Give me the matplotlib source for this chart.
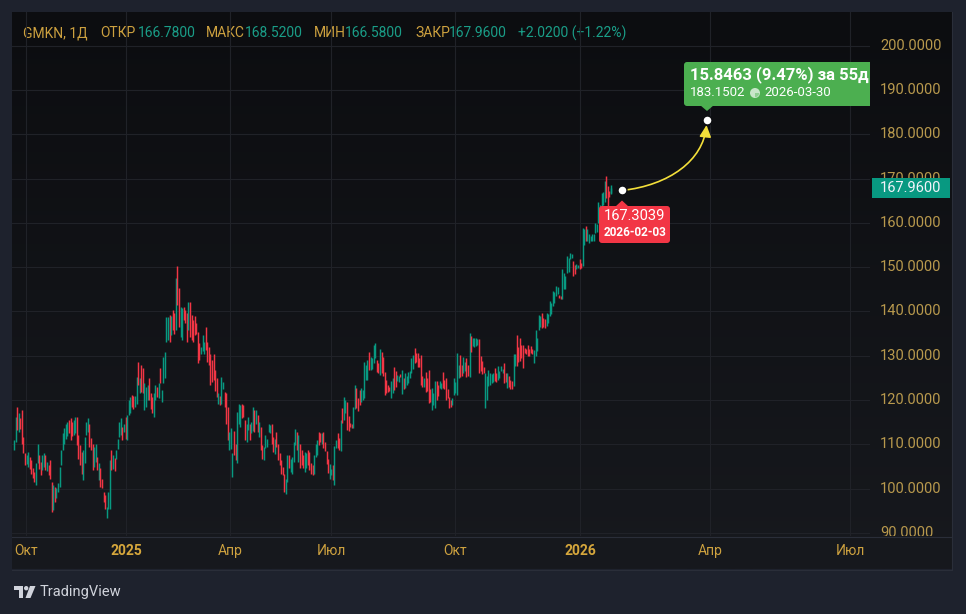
import numpy as np
import matplotlib
matplotlib.use("Agg")
import matplotlib.pyplot as plt
from matplotlib.colors import LinearSegmentedColormap
from matplotlib.patches import FancyBboxPatch, Polygon, Circle, Wedge, Rectangle, FancyArrowPatch
from matplotlib.path import Path
from matplotlib.transforms import Affine2D, blended_transform_factory

plt.rcParams['font.family'] = ['Roboto', 'DejaVu Sans']

# --- данные (дневные свечи GMKN) ---
ticker = "GMKN, 1Д"

opens = [
    # сен 2024 - янв 2025
    108.7, 110.6, 118.5, 112.9, 116.0, 117.7, 111.7, 108.0, 105.6, 105.0,
    107.2, 106.5, 104.6, 103.8, 100.8, 105.7, 107.6, 106.0, 104.2, 105.0,
    107.6, 104.0, 105.3, 106.5, 101.6, 95.2, 100.4, 97.8, 99.3, 100.4,
    105.3, 108.7, 110.2, 111.3, 112.0, 115.5, 115.9, 115.0, 112.1, 112.5,
    116.2, 112.1, 109.8, 108.3, 102.0, 105.7, 112.1, 112.9, 114.7, 111.5,
    110.2, 105.0, 106.1, 107.2, 102.0, 104.6, 102.3, 99.3, 98.5, 93.3,
    95.5, 95.5, 108.7, 104.5, 107.0, 106.8, 109.0, 111.7, 112.1, 114.0,
    112.9, 116.2, 111.0, 116.6, 117.0, 121.1, 121.0, 118.5, 119.2, 128.7,
    121.5, 127.9, 127.2, 117.7, 118.5, 120.0, 124.9, 121.5, 120.8, 116.2,
    120.0, 123.0, 120.4, 127.2, 119.6, 123.8, 125.0,
    # фев - июл 2025
    133.0, 133.5, 139.2, 134.7, 140.3, 139.6, 135.8, 150.2, 145.2, 134.3,
    133.5, 141.1, 140.3, 139.6, 135.8, 142.2, 139.2, 138.0, 139.0, 137.5,
    135.4, 132.8, 130.5, 131.0, 130.5, 136.6, 133.2, 132.0, 130.5, 129.0,
    130.5, 126.8, 125.0, 119.2, 121.0, 119.2, 122.5, 121.9, 121.5, 118.5,
    108.7, 109.0, 102.7, 113.0, 110.0, 105.7, 114.7, 114.0, 119.2, 118.8,
    115.5, 110.6, 113.2, 114.7, 112.5, 113.0, 117.7, 114.7, 116.6, 111.7,
    114.0, 109.8, 106.5, 109.1, 109.5, 112.9, 112.5, 114.7, 111.7, 107.9,
    112.9, 110.2, 108.0, 106.5, 105.0, 103.4, 98.9, 101.6, 107.6, 103.8,
    103.4, 106.1, 109.8, 112.9, 106.1, 110.0, 108.7, 107.6, 103.8, 104.6,
    108.7, 108.3, 105.7, 105.3, 103.4, 107.2, 107.6,
    # июл - ноя 2025
    112.9, 112.5, 110.2, 112.9, 110.5, 108.4, 106.8, 102.3, 103.0, 105.3,
    100.8, 109.1, 112.5, 111.4, 108.4, 118.1, 115.5, 117.0, 119.6, 116.5,
    114.8, 114.5, 113.6, 118.0, 122.7, 120.5, 122.3, 119.6, 120.0, 120.4,
    124.5, 124.5, 130.9, 126.8, 127.0, 128.3, 129.5, 129.1, 128.3, 125.7,
    130.9, 129.8, 126.4, 124.5, 123.4, 123.0, 120.4, 121.5, 127.5, 126.5,
    124.2, 124.0, 125.9, 121.4, 125.0, 122.7, 123.5, 123.8, 125.0, 126.1,
    127.0, 131.7, 130.6, 130.6, 129.5, 130.2, 125.5, 123.0, 126.4, 125.0,
    126.8, 122.5, 117.8, 119.0, 118.1, 124.2, 123.5, 122.7, 122.5, 126.4,
    124.5, 124.9, 122.5, 120.8, 120.0, 118.9, 121.1, 121.5, 121.1, 125.0,
    130.2, 128.0, 126.1, 126.5, 129.4, 128.0, 125.3, 134.5, 132.1, 132.0,
    # ноя 2025 - фев 2026
    132.2, 132.5, 133.7, 130.0, 128.8, 127.5, 118.2, 120.0, 123.1, 123.5,
    123.9, 124.0, 127.3, 126.0, 124.6, 125.0, 126.5, 126.0, 128.4, 126.0,
    122.7, 125.5, 124.6, 124.2, 123.1, 127.6, 134.8, 132.0, 134.0, 132.5,
    132.5, 131.8, 131.5, 132.5, 131.5, 132.2, 131.5, 128.4, 129.9, 131.0,
    135.9, 136.5, 139.7, 138.5, 138.2, 136.7, 137.5, 138.9, 139.5, 141.2,
    142.0, 143.5, 144.0, 143.8, 143.6, 142.7, 145.0, 145.0, 148.7, 149.0,
    151.8, 152.0, 151.4, 150.5, 149.5, 149.8, 151.8, 151.0, 150.2, 155.0,
    159.3, 156.0, 155.5, 155.8, 155.9, 156.0, 157.8, 158.0, 160.0, 161.5,
    163.1, 164.0, 164.6, 170.5, 168.3, 167.2, 166.78,
]

closes = [
    111.0, 116.2, 113.2, 117.0, 113.5, 110.2, 108.0, 105.3, 107.6, 108.3,
    104.5, 103.4, 102.5, 101.6, 105.7, 110.2, 104.5, 103.1, 107.6, 108.0,
    104.2, 106.0, 103.1, 102.3, 94.8, 100.8, 97.0, 100.1, 101.2, 105.0,
    108.7, 112.5, 113.6, 114.7, 115.1, 112.5, 111.0, 112.0, 115.6, 116.2,
    109.8, 106.8, 105.3, 103.4, 108.7, 111.7, 115.1, 116.0, 109.5, 108.8,
    104.2, 109.5, 110.2, 104.2, 105.7, 100.4, 100.1, 97.0, 95.5, 95.9,
    99.3, 106.5, 104.2, 107.5, 104.0, 108.7, 111.3, 115.1, 115.9, 111.0,
    114.7, 111.3, 116.6, 120.0, 120.8, 118.5, 118.0, 121.0, 125.3, 123.4,
    124.9, 121.8, 121.5, 123.8, 123.0, 123.4, 120.0, 118.0, 117.0, 121.5,
    123.4, 120.8, 123.8, 123.8, 122.3, 129.8, 130.9,
    138.8, 138.8, 133.2, 139.0, 135.8, 135.0, 147.5, 141.4, 136.6, 141.1,
    140.7, 138.0, 137.3, 133.2, 142.2, 134.3, 133.5, 133.0, 134.7, 135.0,
    128.3, 129.0, 132.0, 134.7, 133.2, 131.3, 128.7, 128.0, 123.5, 124.0,
    124.5, 122.0, 120.8, 121.5, 119.0, 125.3, 124.0, 118.5, 114.7, 110.9,
    112.9, 113.6, 108.0, 107.6, 106.5, 117.3, 119.2, 119.0, 116.0, 116.2,
    110.9, 114.7, 116.2, 111.0, 115.1, 118.5, 112.9, 117.7, 112.9, 115.1,
    108.7, 106.8, 109.5, 112.1, 111.3, 114.7, 114.3, 110.2, 108.3, 111.3,
    109.5, 106.5, 105.3, 103.4, 103.1, 99.3, 102.3, 107.6, 104.6, 106.8,
    107.2, 110.6, 113.4, 108.7, 112.1, 104.6, 105.3, 104.6, 108.3, 108.0,
    105.3, 104.2, 103.4, 103.1, 107.6, 110.2, 110.9,
    109.9, 110.5, 112.5, 109.1, 108.4, 105.6, 103.5, 105.6, 104.5, 102.0,
    109.6, 111.0, 109.1, 108.7, 115.5, 114.8, 120.8, 120.0, 113.2, 113.0,
    114.0, 113.6, 118.5, 123.4, 118.1, 117.5, 118.9, 122.7, 122.3, 128.7,
    127.9, 129.1, 126.8, 129.8, 129.4, 132.4, 132.8, 126.4, 126.1, 131.5,
    126.1, 125.5, 121.1, 121.5, 121.9, 122.0, 124.2, 124.9, 122.3, 123.0,
    125.7, 125.5, 125.1, 126.8, 122.5, 126.1, 125.5, 126.4, 126.5, 129.4,
    130.2, 128.3, 128.7, 127.5, 127.5, 123.4, 123.0, 124.9, 121.9, 122.0,
    119.3, 119.5, 122.7, 121.5, 124.2, 120.0, 121.0, 124.2, 123.8, 122.7,
    122.5, 120.0, 120.5, 118.1, 118.5, 120.4, 124.9, 124.0, 130.6, 128.0,
    125.3, 125.5, 129.8, 128.5, 125.3, 125.5, 135.1, 130.9, 133.9, 134.0,
    134.0, 133.7, 126.1, 126.5, 125.8, 126.0, 126.1, 125.5, 126.9, 126.0,
    125.8, 126.0, 124.2, 124.0, 127.6, 126.5, 127.6, 127.0, 123.9, 124.0,
    126.1, 123.0, 122.4, 122.5, 130.3, 130.3, 127.6, 128.5, 128.8, 129.5,
    127.3, 130.7, 130.5, 129.9, 130.0, 130.7, 130.5, 131.4, 135.9, 134.0,
    139.3, 139.0, 136.3, 136.5, 136.3, 139.7, 139.5, 142.3, 142.0, 144.6,
    144.5, 145.7, 145.5, 143.1, 142.8, 149.5, 148.7, 148.0, 152.5, 152.0,
    153.3, 153.0, 148.0, 148.5, 150.6, 150.5, 149.5, 149.7, 158.9, 158.5,
    155.9, 158.5, 157.4, 157.0, 157.4, 157.5, 160.0, 159.8, 164.6, 164.0,
    166.8, 167.0, 169.5, 165.5, 162.3, 165.94, 167.96,
]

last_high = 168.52
last_low = 166.58

price_ticks = [90, 100, 110, 120, 130, 140, 150, 160, 170, 180, 190, 200]
month_labels = ["Окт", "2025", "Апр", "Июл", "Окт", "2026", "Апр", "Июл"]
month_px = [26, 126, 230, 331, 455, 580, 710, 850]   # где стоят метки на оси времени

# инструмент "прогноз" (линейка)
m_start_price = 167.3039
m_start_date = "2026-02-03"
m_end_price = 183.1502
m_end_date = "2026-03-30"
m_days = 55

# --- цвета ---
UP = "#089981"
DOWN = "#f23645"
GOLD = "#cda13f"
VAL = "#1a9e88"
AXTXT = "#b8994d"

W, H = 966, 614
fig = plt.figure(figsize=(W / 100, H / 100), dpi=100)
fig.patch.set_facecolor("#1e222d")
pix = Affine2D().scale(1, -1).translate(0, H)   # пиксели, y вниз

# фон виджета
bg = fig.add_axes([0, 0, 1, 1])
cmap = LinearSegmentedColormap.from_list("bg", ["#0c0d10", "#17191e"])
bg.imshow(np.linspace(0, 1, 256).reshape(-1, 1), extent=(12, 952, 569, 12),
          aspect="auto", cmap=cmap, zorder=0)
bg.set_xlim(0, W)
bg.set_ylim(H, 0)
bg.axis("off")
bg.plot([12, 952], [536.5, 536.5], color="#2a2e39", lw=0.8)
bg.plot([12, 952], [569.5, 569.5], color="#2a2e39", lw=0.8)
bg.plot([952, 952], [12, 569.5], color="#2a2e39", lw=0.8)

# шапка
n = len(closes)
chg_day = closes[-1] - closes[-2]
chg_pct = chg_day / closes[-2] * 100
head = [
    (23, ticker, GOLD), (100, "ОТКР", GOLD), (138, f"{opens[-1]:.4f}", VAL),
    (206, "МАКС", GOLD), (245, f"{last_high:.4f}", VAL),
    (314, "МИН", GOLD), (345, f"{last_low:.4f}", VAL),
    (415, "ЗАКР", GOLD), (449, f"{closes[-1]:.4f}", VAL),
    (518, f"{chg_day:+.4f} ({chg_pct:+.2f}%)", VAL),
]
for hx, s, col in head:
    bg.text(hx, 33, s, color=col, fontsize=10, va="center", ha="left", zorder=5)

# логотип TradingView
bg.add_patch(Polygon([(14, 586), (23, 586), (23, 598), (18.5, 598), (18.5, 590), (14, 590)],
                     closed=True, fc="#d1d4dc", ec="none"))
bg.add_patch(Circle((26.2, 588.2), 2.2, fc="#d1d4dc", ec="none"))
bg.add_patch(Polygon([(30, 586), (35.5, 586), (30.5, 598), (25.5, 598)],
                     closed=True, fc="#d1d4dc", ec="none"))
bg.text(40, 592, "TradingView", color="#d1d4dc", fontsize=10.5, va="center", ha="left")

# --- основная панель ---
ax = fig.add_axes([12 / W, (H - 536) / H, 858 / W, 524 / H])
ax.patch.set_alpha(0)
step = 597 / (n - 1)          # пикселей на свечу
ppu = 4.431                   # пикселей на 1 пункт цены
ax.set_xlim(-2 / step, 856 / step)
ax.set_ylim(200 - (536 - 45.6) / ppu, 200 + (45.6 - 12) / ppu)
for sp in ax.spines.values():
    sp.set_visible(False)

x = np.arange(n)
o = np.array(opens)
c = np.array(closes)
cols = np.where(c >= o, UP, DOWN)
ax.vlines(x, np.minimum(o, c), np.maximum(o, c), colors=cols, lw=1.05, zorder=3)
ax.vlines(x[-1], last_low, last_high, colors=UP, lw=1.05, zorder=3)

ax.set_yticks(price_ticks)
ax.set_xticks([(p - 14) / step for p in month_px])
ax.set_xticklabels(month_labels)
ax.grid(True, color="#202228", lw=0.8)
ax.tick_params(length=0, labelleft=False, pad=6, labelsize=10, labelcolor=GOLD)
for lab in ax.get_xticklabels():
    if lab.get_text().isdigit():
        lab.set_fontweight("bold")
        lab.set_color("#d6a73c")

# шкала цен
pax = fig.add_axes([870 / W, (H - 536) / H, 82 / W, 524 / H])
pax.set_xlim(0, 1)
pax.set_ylim(ax.get_ylim())
pax.axis("off")
tr = blended_transform_factory(pax.transAxes, pax.transData)
last = closes[-1]
for p in price_ticks:
    pax.text(0.122, p, f"{p:.4f}", transform=tr, color=AXTXT, fontsize=10.5,
             va="center", ha="left", clip_on=True)
pax.add_patch(Rectangle((0.024, last - 10 / ppu), 0.952, 20 / ppu, transform=tr,
                        fc=UP, ec="none", zorder=3))
pax.text(0.122, last, f"{last:.4f}", transform=tr, color="#f0f3fa", fontsize=10.5,
         va="center", ha="left", zorder=4)

# --- прогноз ---
sb = n - 1 + 7
eb = sb + m_days - 1
verts = [(sb, m_start_price), (sb + 30.5, m_start_price + 1.2),
         (eb - 2.5, m_end_price - 9.0), (eb - 0.2, m_end_price - 1.1)]
curve = FancyArrowPatch(path=Path(verts, [Path.MOVETO, Path.CURVE4, Path.CURVE4, Path.CURVE4]),
                        arrowstyle="-|>,head_length=0.5,head_width=0.25", mutation_scale=14,
                        color="#f3df3a", lw=1.2, zorder=5)
ax.add_patch(curve)
ax.scatter([sb, eb], [m_start_price, m_end_price], s=42, color="white",
           edgecolors="#0c0d10", linewidths=1.0, zorder=7, clip_on=False)

# метка начала (красная)
ax.add_patch(FancyBboxPatch((599, 206), 71, 37, boxstyle="round,pad=0,rounding_size=3",
                            transform=pix, fc=DOWN, ec="none", zorder=8))
ax.add_patch(Polygon([(615, 207), (622, 200.5), (629, 207)], closed=True, transform=pix,
                     fc=DOWN, ec="none", zorder=8))
ax.text(604, 216, f"{m_start_price:.4f}", transform=pix, color="white", fontsize=10.5,
        va="center", ha="left", zorder=9)
ax.text(604, 232.5, m_start_date, transform=pix, color="white", fontsize=8.5,
        fontweight="bold", va="center", ha="left", zorder=9)

# метка цели (зелёная)
GREEN = "#4caf50"
m_chg = m_end_price - m_start_price
m_pct = m_chg / m_start_price * 100
ax.add_patch(FancyBboxPatch((684, 62), 200, 44, boxstyle="round,pad=0,rounding_size=3",
                            transform=pix, fc=GREEN, ec="none", zorder=8))
ax.add_patch(Polygon([(700, 105), (707, 111), (714, 105)], closed=True, transform=pix,
                     fc=GREEN, ec="none", zorder=8))
ax.text(690, 74.5, f"{m_chg:.4f} ({m_pct:.2f}%) за {m_days}д", transform=pix, color="white",
        fontsize=12, fontweight="bold", va="center", ha="left", clip_on=True, zorder=9)
ax.text(690, 93, f"{m_end_price:.4f}", transform=pix, color="white", fontsize=9.5,
        va="center", ha="left", clip_on=True, zorder=9)
ax.add_patch(Circle((755, 93), 5, transform=pix, fc="#c8e6c9", ec="none", zorder=9))
ax.add_patch(Wedge((755, 93), 4.2, 0, 90, transform=pix, fc="#8fcf92", ec="none", zorder=10))
ax.text(764, 93, m_end_date, transform=pix, color="white", fontsize=9.5,
        va="center", ha="left", clip_on=True, zorder=9)

fig.savefig("out.png", dpi=100, facecolor=fig.get_facecolor())
